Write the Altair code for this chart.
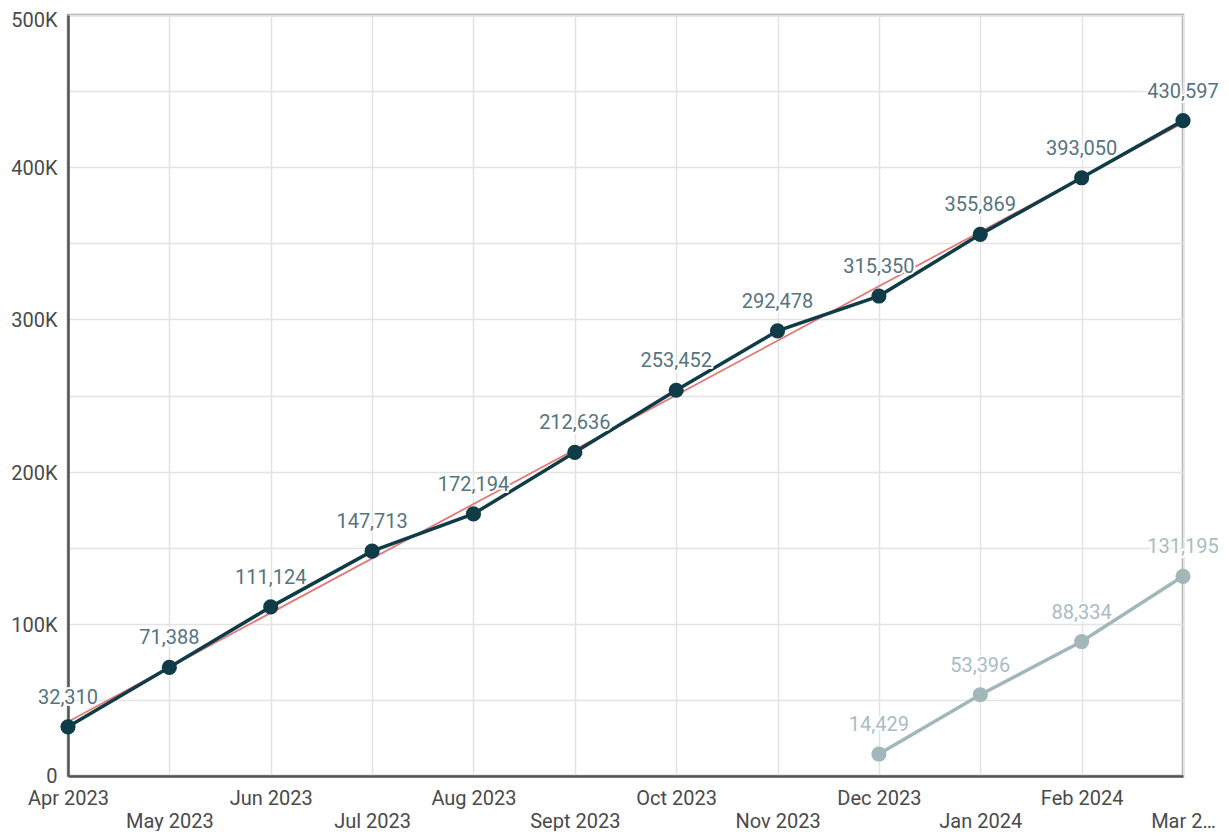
import altair as alt
import pandas as pd

months = ["Apr 2023", "May 2023", "Jun 2023", "Jul 2023", "Aug 2023", "Sept 2023",
          "Oct 2023", "Nov 2023", "Dec 2023", "Jan 2024", "Feb 2024", "Mar 2024"]
current_values = [32310, 71388, 111124, 147713, 172194, 212636,
                  253452, 292478, 315350, 355869, 393050, 430597]
prior_months = ["Dec 2023", "Jan 2024", "Feb 2024", "Mar 2024"]
prior_values = [14429, 53396, 88334, 131195]
y_ticks = list(range(0, 500001, 50000))

df_main = pd.DataFrame({"idx": list(range(len(months))), "month": months, "value": current_values})
df_prior = pd.DataFrame({"idx": [months.index(m) for m in prior_months],
                         "month": prior_months, "value": prior_values})

# two-row alternating x labels; last one truncated as in the original
shown = months[:-1] + ["Mar 2\u2026"]
parts = []
for i, lab in enumerate(shown):
    parts.append(f"['', '{lab}']" if i % 2 else f"'{lab}'")
x_label_expr = "[" + ", ".join(parts) + "][datum.value]"

FONT = "Roboto"
FS = 20
MAIN = "#0f3c47"
MAIN_LABEL = "#557480"
PRIOR = "#a2b7ba"
PRIOR_LABEL = "#a8bdc0"
TREND = "#e07a78"

x_enc = alt.X("idx:Q",
              scale=alt.Scale(domain=[0, len(months) - 1], nice=False, zero=False),
              axis=alt.Axis(title=None, values=list(range(len(months))), labelExpr=x_label_expr,
                            grid=True, gridColor="#e3e3e3", gridWidth=1.5,
                            ticks=False, domainColor="#555555", domainWidth=2.5,
                            labelFlush=False, labelOverlap=False, labelBound=False,
                            labelPadding=12, labelLineHeight=23,
                            labelFont=FONT, labelFontSize=FS, labelColor="#4a4a4a"))
y_enc = alt.Y("value:Q",
              scale=alt.Scale(domain=[0, 500000], nice=False),
              axis=alt.Axis(title=None, values=y_ticks,
                            labelExpr="datum.value % 100000 == 0 ? (datum.value == 0 ? '0' : (datum.value / 1000) + 'K') : ''",
                            grid=True, gridColor="#e3e3e3", gridWidth=1.5,
                            ticks=False, domainColor="#555555", domainWidth=2.5,
                            labelPadding=11,
                            labelOffset={"condition": [{"test": "datum.value == 500000", "value": 5},
                                                       {"test": "datum.value == 0", "value": 0}],
                                         "value": 1.5},
                            labelFont=FONT, labelFontSize=FS,
                            labelColor="#4a4a4a"))

base_main = alt.Chart(df_main).encode(x=x_enc, y=y_enc)
base_prior = alt.Chart(df_prior).encode(x=x_enc, y=y_enc)

trend = alt.Chart(df_main).transform_regression("idx", "value").mark_line(
    color=TREND, strokeWidth=1.8).encode(x=x_enc, y=y_enc)

prior_line = base_prior.mark_line(color=PRIOR, strokeWidth=3.5)
prior_pts = base_prior.mark_circle(color=PRIOR, size=230, opacity=1)
main_line = base_main.mark_line(color=MAIN, strokeWidth=3.5)
main_pts = base_main.mark_circle(color=MAIN, size=230, opacity=1)

def labels(base, color):
    halo = base.mark_text(baseline="middle", dy=-29, font=FONT, fontSize=FS,
                          stroke="white", strokeWidth=4, strokeJoin="round", color="white").encode(
        text=alt.Text("value:Q", format=",d"))
    txt = base.mark_text(baseline="middle", dy=-29, font=FONT, fontSize=FS, color=color).encode(
        text=alt.Text("value:Q", format=",d"))
    return halo + txt

chart = alt.layer(
    trend, prior_line, prior_pts, main_line, main_pts,
    labels(base_prior, PRIOR_LABEL), labels(base_main, MAIN_LABEL)
).properties(
    width=1115, height=761,
    autosize=alt.AutoSizeParams(type="none"),
    padding={"left": 60, "top": 7, "right": 38, "bottom": 55},
    background="white",
).configure_view(stroke="#a8a8a8", strokeWidth=2.5)

chart.save("out.html", embed_options={"renderer": "svg", "actions": False})
